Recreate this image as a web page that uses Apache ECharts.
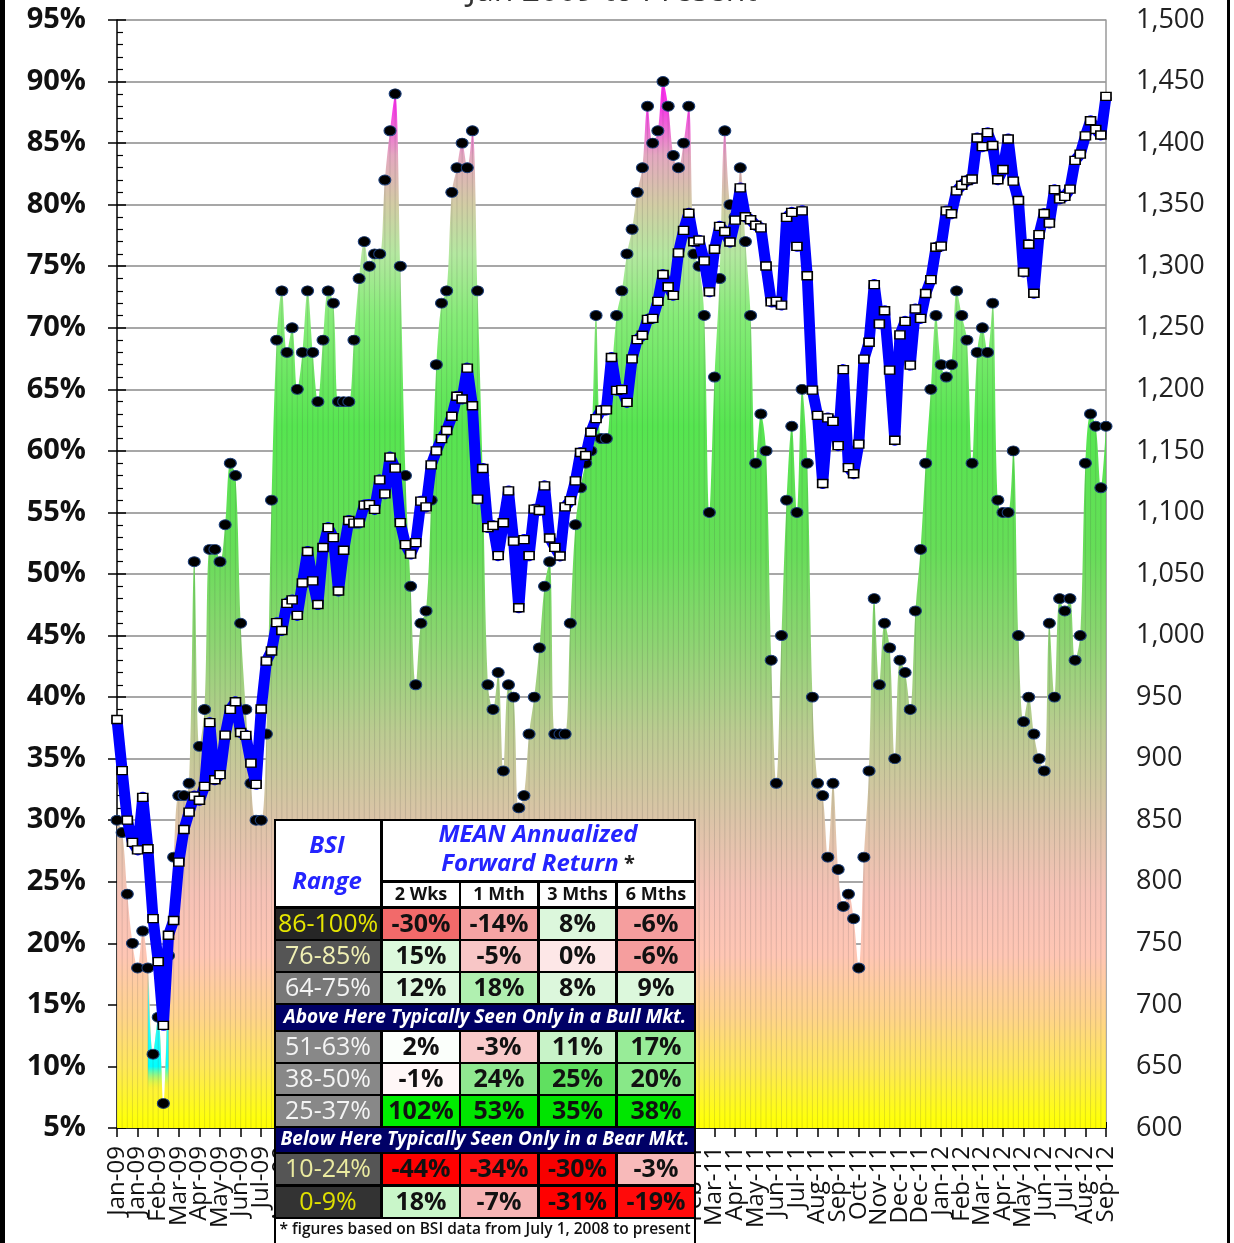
<!DOCTYPE html>
<html lang="en">
<head>
<meta charset="UTF-8">
<title>BSI vs S&amp;P 500 - Jan 2009 to Present</title>
<script src="https://cdn.jsdelivr.net/npm/echarts@6/dist/echarts.min.js"></script>
<style>
  html, body { margin: 0; padding: 0; background: #fff; }
  #main { width: 1234px; height: 1243px; }
</style>
</head>
<body>
<div id="main"></div>
<script>
// weekly categories, Fridays from 2 Jan 2009 to 7 Sep 2012
const startDay = Date.UTC(2009, 0, 2);
const weekCount = 193;
const monthNames = ['Jan', 'Feb', 'Mar', 'Apr', 'May', 'Jun', 'Jul', 'Aug', 'Sep', 'Oct', 'Nov', 'Dec'];
const weeks = [];
for (let i = 0; i < weekCount; i++) {
    const d = new Date(startDay + i * 7 * 86400000);
    weeks.push(monthNames[d.getUTCMonth()] + '-' + String(d.getUTCFullYear()).slice(2));
}

// BSI reading, % (left axis)
const bsi = [
    30, 29, 24, 20, 18, 21, 18, 11, 14, 7, 19, 27, 32, 32, 33, 51, 36, 39, 52, 52,
    51, 54, 59, 58, 46, 39, 33, 30, 30, 37, 56, 69, 73, 68, 70, 65, 68, 73, 68, 64,
    69, 73, 72, 64, 64, 64, 69, 74, 77, 75, 76, 76, 82, 86, 89, 75, 58, 49, 41, 46,
    47, 56, 67, 72, 73, 81, 83, 85, 83, 86, 73, 58, 41, 39, 42, 34, 41, 40, 31, 32,
    37, 40, 44, 49, 51, 37, 37, 37, 46, 54, 57, 59, 60, 71, 61, 61, 66, 71, 73, 76,
    78, 81, 83, 88, 85, 86, 90, 88, 84, 83, 85, 88, 76, 75, 71, 55, 66, 74, 86, 80,
    79, 83, 77, 71, 59, 63, 60, 43, 33, 45, 56, 62, 55, 65, 59, 40, 33, 32, 27, 33,
    26, 23, 24, 22, 18, 27, 34, 48, 41, 46, 44, 35, 43, 42, 39, 47, 52, 59, 65, 71,
    67, 66, 67, 73, 71, 69, 59, 68, 70, 68, 72, 56, 55, 55, 60, 45, 38, 40, 37, 35,
    34, 46, 40, 48, 47, 48, 43, 45, 59, 63, 62, 57, 62
];

// S&P 500 weekly close (right axis)
const spx = [
    931.80, 890.35, 850.12, 831.95, 825.88, 868.60, 826.84, 770.05, 735.09, 683.38,
    756.55, 768.54, 815.94, 842.50, 856.56, 869.60, 866.23, 877.52, 929.23, 882.88,
    887.00, 919.14, 940.09, 946.21, 921.23, 918.90, 896.42, 879.13, 940.38, 979.26,
    987.48, 1010.48, 1004.09, 1026.13, 1028.93, 1016.40, 1042.73, 1068.30, 1044.38, 1025.21,
    1071.49, 1087.68, 1079.60, 1036.19, 1069.30, 1093.48, 1091.38, 1091.49, 1105.98, 1106.41,
    1102.47, 1126.48, 1115.10, 1144.98, 1136.03, 1091.76, 1073.87, 1066.19, 1075.51, 1109.17,
    1104.49, 1138.70, 1149.99, 1159.90, 1166.59, 1178.10, 1194.37, 1192.13, 1217.28, 1186.69,
    1110.88, 1135.68, 1087.69, 1089.41, 1064.88, 1091.60, 1117.51, 1076.76, 1022.58, 1077.96,
    1064.88, 1102.66, 1101.60, 1121.64, 1079.25, 1071.69, 1064.59, 1104.51, 1109.55, 1125.59,
    1148.67, 1146.24, 1165.15, 1176.19, 1183.08, 1183.26, 1225.85, 1199.21, 1199.73, 1189.40,
    1224.71, 1240.40, 1243.91, 1256.77, 1257.64, 1271.50, 1293.24, 1283.35, 1276.34, 1310.87,
    1329.15, 1343.01, 1319.88, 1321.15, 1304.28, 1279.20, 1313.80, 1332.41, 1328.17, 1319.68,
    1337.38, 1363.61, 1340.20, 1337.77, 1333.27, 1331.10, 1300.16, 1270.98, 1271.50, 1268.45,
    1339.67, 1343.80, 1316.14, 1345.02, 1292.28, 1199.38, 1178.81, 1123.53, 1176.80, 1173.97,
    1154.23, 1216.01, 1136.43, 1131.42, 1155.46, 1224.58, 1238.25, 1285.09, 1253.23, 1263.85,
    1215.65, 1158.67, 1244.28, 1255.19, 1219.66, 1265.33, 1257.60, 1277.81, 1289.09, 1315.38,
    1316.33, 1344.90, 1342.64, 1361.23, 1365.74, 1369.63, 1370.87, 1404.17, 1397.11, 1408.47,
    1398.08, 1370.26, 1378.53, 1403.36, 1369.10, 1353.39, 1295.22, 1317.82, 1278.04, 1325.66,
    1342.84, 1335.02, 1362.16, 1354.68, 1356.78, 1362.66, 1385.97, 1390.99, 1405.87, 1418.16,
    1411.13, 1406.58, 1437.92
];

// table
const tableRanges = ['86-100%', '76-85%', '64-75%', '51-63%', '38-50%', '25-37%', '10-24%', '0-9%'];
const tableCols = ['2 Wks', '1 Mth', '3 Mths', '6 Mths'];
const tableReturns = [
    [-30, -14, 8, -6],
    [15, -5, 0, -6],
    [12, 18, 8, 9],
    [2, -3, 11, 17],
    [-1, 24, 25, 20],
    [102, 53, 35, 38],
    [-44, -34, -30, -3],
    [18, -7, -31, -19]
];
const bullNote = 'Above Here Typically Seen Only in a Bull Mkt.';
const bearNote = 'Below Here Typically Seen Only in a Bear Mkt.';
const footNote = '* figures based on BSI data from July 1, 2008 to present';

// colours
const cellColors = [
    ['#f26a6a', '#f5a4a4', '#dcf7dc', '#f59e9e'],
    ['#dcf9dc', '#f8c6c6', '#fde7e7', '#f59e9e'],
    ['#dff8df', '#b0f0b0', '#dcf7dc', '#dcf8dc'],
    ['#fbfffb', '#f9caca', '#c8f3c8', '#98ec98'],
    ['#fff7f7', '#90e890', '#60e060', '#88e888'],
    ['#00ee00', '#00e600', '#00e400', '#00e600'],
    ['#ff0000', '#ff1010', '#f80000', '#f8baba'],
    ['#c9f6c9', '#f6b4b4', '#ff0000', '#ff0a0a']
];
const rangeBg = ['#262626', '#555555', '#787878', '#888888', '#888888', '#888888', '#555555', '#333333'];
const rangeFg = ['#e6e600', '#f0f0b4', '#f4f4f4', '#f4f4f4', '#f4f4f4', '#f4f4f4', '#eaeaa0', '#e0e000'];

// area colour by BSI level
const fillStops = [
    [95, '#ff00ff'], [88, '#f838e8'], [84, '#e4a8c0'], [80, '#d2cca4'], [76, '#b4e8a0'],
    [71, '#86ec78'], [62, '#56e650'], [52, '#66de58'], [44, '#90d474'], [37, '#bccb92'],
    [30, '#dcc4a8'], [24, '#f6c2b6'], [19, '#ffc6b4'], [14, '#ffd48a'], [10, '#ffe85a'],
    [6, '#ffff10'], [5, '#ffff00']
];
const plotTop = 20, plotBottom = 1128;
function levelGradient(stops) {
    return {
        type: 'linear', x: 0, y: plotTop, x2: 0, y2: plotBottom, global: true,
        colorStops: stops.map(s => ({offset: (95 - s[0]) / 90, color: s[1]}))
    };
}

const dipPart = bsi.map((v, i) => (i >= 6 && i <= 10 ? v : null));

const font = '"Open Sans", "Liberation Sans", sans-serif';

// ---- table as graphic elements
const gfx = [];
function rect(x, y, w, h, fill) {
    gfx.push({type: 'rect', z: 100, shape: {x: x, y: y, width: w, height: h}, style: {fill: fill}});
}
function text(x, y, str, f, fill, align) {
    gfx.push({type: 'text', z: 101, x: x, y: y,
        style: {text: str, font: f, fill: fill, align: align || 'center', verticalAlign: 'middle'}});
}

// frame edges
rect(0, 0, 5, 1243, '#000');
rect(1227, 0, 3, 1243, '#000');

// title (cut at the top edge)
text(612, -8, 'Jan 2009 to Present', '32px ' + font, '#333');

rect(274, 819, 422, 424, '#000');
rect(276, 821, 104, 85, '#fff');
text(327, 846, 'BSI', 'italic bold 24px ' + font, '#2424ff');
text(327, 882, 'Range', 'italic bold 24px ' + font, '#2424ff');
rect(383, 821, 311, 59, '#fff');
text(538, 835, 'MEAN Annualized', 'italic bold 24px ' + font, '#2424ff');
gfx.push({type: 'text', z: 101, x: 538, y: 864, style: {
    text: '{a|Forward Return}{b| *}', align: 'center', verticalAlign: 'middle',
    rich: {
        a: {font: 'italic bold 24px ' + font, fill: '#2424ff'},
        b: {font: 'bold 20px ' + font, fill: '#222'}
    }
}});

const colX = [383, 461, 540, 618];
const colW = [76, 76, 75, 76];
tableCols.forEach((c, j) => {
    rect(colX[j], 883, colW[j], 23, '#fff');
    text(colX[j] + colW[j] / 2, 895, c, 'bold 18px ' + font, '#111');
});

const rowY = [909, 941, 973, 1032, 1064, 1096, 1154, 1187];
tableRanges.forEach((r, k) => {
    rect(276, rowY[k], 104, 30, rangeBg[k]);
    text(328, rowY[k] + 16, r, '25px ' + font, rangeFg[k]);
    tableReturns[k].forEach((v, j) => {
        rect(colX[j], rowY[k], colW[j], 30, cellColors[k][j]);
        text(colX[j] + colW[j] / 2, rowY[k] + 16, v + '%', 'bold 25px ' + font, '#111');
    });
});
rect(276, 1005, 418, 25, '#000066');
text(485, 1018, bullNote, 'italic bold 19px ' + font, '#fff');
rect(276, 1128, 418, 24, '#000066');
text(485, 1140, bearNote, 'italic bold 19px ' + font, '#fff');
rect(276, 1219, 418, 24, '#fff');
text(485, 1230, footNote, '600 15.5px ' + font, '#111');

let chart = echarts.init(document.getElementById('main'));

// month labels every 4 weeks, split over two axes so none get dropped
const weekLabel = {rotate: 90, fontFamily: font, fontSize: 24, color: '#111', margin: 18};

let option = {
    animation: false,
    backgroundColor: '#fff',
    grid: {left: 117, right: 128, top: plotTop, bottom: 1243 - plotBottom},
    xAxis: [
        {
            type: 'category',
            data: weeks,
            boundaryGap: false,
            axisLine: {lineStyle: {color: '#000', width: 1.5}},
            axisTick: {interval: 3, length: 9, lineStyle: {color: '#000', width: 1.5}},
            axisLabel: Object.assign({interval: 7, showMinLabel: true, showMaxLabel: true}, weekLabel),
            splitLine: {show: false}
        },
        {
            type: 'category',
            data: weeks,
            boundaryGap: false,
            position: 'bottom',
            axisLine: {show: false},
            axisTick: {show: false},
            axisLabel: Object.assign({interval: idx => idx % 8 === 4}, weekLabel),
            splitLine: {show: false}
        },
        {
            type: 'category',
            data: weeks,
            boundaryGap: false,
            position: 'bottom',
            axisLine: {show: false},
            axisLabel: {show: false},
            axisTick: {show: true, inside: true, interval: 0, length: 6, lineStyle: {color: '#000', width: 1}},
            splitLine: {show: false}
        }
    ],
    yAxis: [
        {
            type: 'value',
            min: 5, max: 95, interval: 5,
            position: 'left',
            axisLine: {show: true, lineStyle: {color: '#000', width: 1.5}},
            axisTick: {show: true, length: 9, lineStyle: {color: '#000', width: 1.5}},
            axisLabel: {formatter: '{value}%', fontFamily: font, fontWeight: 'bold', fontSize: 29, color: '#111', margin: 31},
            splitLine: {show: true, lineStyle: {color: '#8a8a8a', width: 1.5}}
        },
        {
            type: 'value',
            min: 600, max: 1500, interval: 50,
            position: 'right',
            axisLine: {show: true, lineStyle: {color: '#9a9a9a', width: 1.5}},
            axisTick: {show: false},
            axisLabel: {formatter: v => v.toLocaleString('en-US'), fontFamily: font, fontSize: 27, color: '#222', margin: 30},
            splitLine: {show: false}
        },
        {
            type: 'value',
            min: 5, max: 95, interval: 5,
            position: 'left',
            axisLine: {show: false},
            axisLabel: {show: false},
            splitLine: {show: false},
            axisTick: {show: true, inside: true, length: 9, lineStyle: {color: '#000', width: 1.5}},
            minorTick: {show: true, splitNumber: 5, length: 6, lineStyle: {color: '#000', width: 1.2}}
        }
    ],
    series: [
        {
            name: 'BSI area',
            type: 'line',
            data: bsi,
            smooth: 0.35,
            symbol: 'none',
            lineStyle: {width: 0},
            areaStyle: {origin: 'start', color: levelGradient(fillStops), opacity: 1},
            silent: true,
            z: 1
        },
        {
            name: 'BSI low',
            type: 'line',
            data: dipPart,
            smooth: 0.35,
            symbol: 'none',
            lineStyle: {width: 0},
            areaStyle: {origin: 'start', opacity: 1, color: levelGradient([
                [18, 'rgba(0,255,255,0)'], [16, 'rgba(60,255,255,0.9)'],
                [10, '#00ffff'], [8, 'rgba(255,255,0,0)'], [5, 'rgba(255,255,0,0)']
            ])},
            silent: true,
            z: 1
        },
        {
            name: 'weeks',
            type: 'bar',
            data: bsi,
            barWidth: 1,
            itemStyle: {color: 'rgba(70,70,70,0.16)'},
            silent: true,
            z: 2
        },
        {
            name: 'BSI',
            type: 'line',
            data: bsi,
            symbol: 'circle',
            symbolSize: [12, 10],
            showAllSymbol: true,
            lineStyle: {opacity: 0},
            itemStyle: {color: '#000', borderColor: '#1d3f7a', borderWidth: 1},
            z: 3
        },
        {
            name: 'S&P 500',
            type: 'line',
            yAxisIndex: 1,
            data: spx,
            symbol: 'rect',
            symbolSize: [10, 8],
            showAllSymbol: true,
            lineStyle: {color: '#0000ff', width: 11, join: 'round'},
            itemStyle: {color: '#fff', borderColor: '#000', borderWidth: 1.5},
            z: 4
        }
    ],
    graphic: gfx
};

chart.setOption(option);
</script>
</body>
</html>
